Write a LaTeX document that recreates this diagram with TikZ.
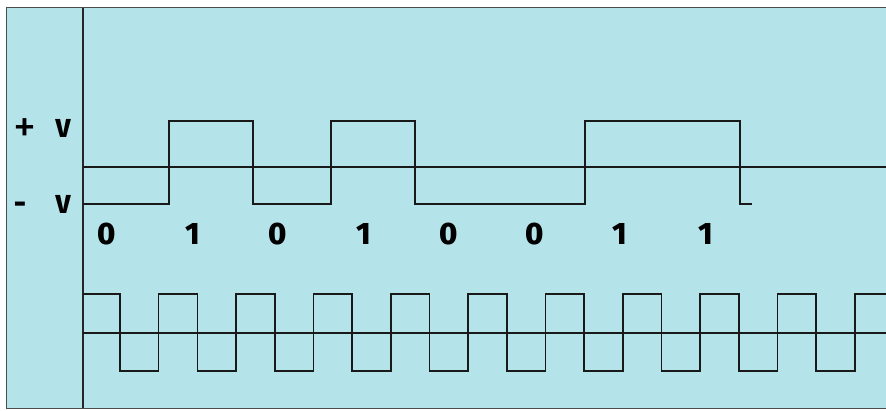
\documentclass[tikz,border=0pt]{standalone}
\usepackage{fontspec}
\setmainfont{Fira Sans}[BoldFont={Fira Sans ExtraBold}]
\definecolor{panel}{RGB}{180,228,234}
\tikzset{
  wave/.style={line width=1.6pt,black!90},
  lbl/.style={anchor=base,font=\fontsize{26}{26}\selectfont\bfseries},
  sign/.style={anchor=base,font=\fontsize{46}{46}\selectfont},
  bit/.style={anchor=base,font=\fontsize{31}{31}\selectfont\bfseries}
}
\begin{document}
\begin{tikzpicture}[x=1pt,y=-1pt]
  \useasboundingbox (0,0) rectangle (886,410);
  \fill[white] (0,0) rectangle (886,410);
  \draw[gray!60!black,fill=panel] (6,7.5) rectangle (892,408);
  \draw[line width=1.6pt,black!85] (83,7.5) -- (83,408);
  % levels
  \node[sign] (plus) at (25,142) {+}; \node[lbl] (vhigh) at (63,137) {V};
  \node[sign,font=\fontsize{30}{30}\selectfont\bfseries] (minus) at (20,213) {-}; \node[lbl] (vlow) at (63,213) {V};
  % data signal
  \draw[wave] (83,167) -- (886,167);
  \draw[wave] (83,204) -| (169,121) -| (253,204) -| (331,121) -| (415,204) -| (585,121) -| (740,204) -- (752,204);
  \foreach \b [count=\i from 0] in {0,1,0,1,0,0,1,1}
    \node[bit] (bit\i) at ({107+85.5*\i},244) {\b};
  % clock
  \draw[wave] (83,333) -- (886,333);
  \draw[wave] (83,294) foreach \k [evaluate=\k as \yy using {294+77*(1-mod(\k,2))}] in {0,...,19}{ -| ({120+38.68*\k},\yy) } -- (886,294);
\end{tikzpicture}
\end{document}
